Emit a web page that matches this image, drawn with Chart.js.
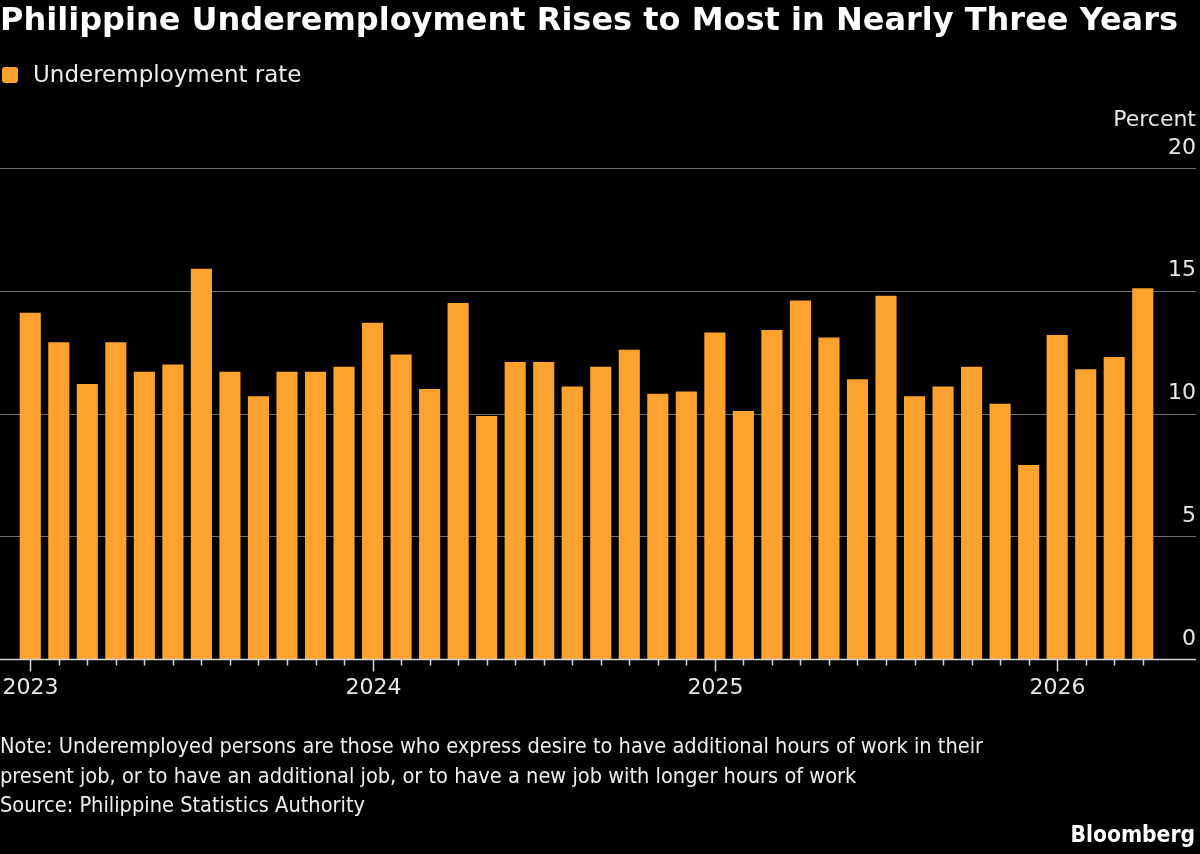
<!DOCTYPE html>
<html>
<head>
<meta charset="utf-8">
<script src="https://cdn.jsdelivr.net/npm/chart.js@4"></script>
<style>
  html, body { margin: 0; padding: 0; background: #000; }
  body { width: 1200px; height: 854px; position: relative; overflow: hidden; color: #fff; }
  .title { position: absolute; left: 0; top: 0; font: bold 32px "DejaVu Sans", sans-serif; white-space: nowrap; }
  .legend { position: absolute; left: 2px; top: 61px; font: 23px "DejaVu Sans", sans-serif; color: #eee; white-space: nowrap; }
  .legend .swatch { display: inline-block; width: 16px; height: 16px; background: #fda22e; border-radius: 3px; margin-right: 15px; vertical-align: -1px; }
  .note { position: absolute; left: 0; top: 731px; font: 21.6px "DejaVu Sans Condensed", "DejaVu Sans", sans-serif; line-height: 29.5px; color: #eee; white-space: nowrap; }
  .brand { position: absolute; right: 5px; top: 821px; font: bold 22.6px "DejaVu Sans Condensed", "DejaVu Sans", sans-serif; }
  #wrap { position: absolute; left: 0; top: 0; width: 1200px; height: 854px; }
</style>
</head>
<body>
<div id="wrap"><canvas id="chart"></canvas></div>
<div class="title">Philippine Underemployment Rises to Most in Nearly Three Years</div>
<div class="legend"><span class="swatch"></span>Underemployment rate</div>
<div class="note">Note: Underemployed persons are those who express desire to have additional hours of work in their<br>present job, or to have an additional job, or to have a new job with longer hours of work<br>Source: Philippine Statistics Authority</div>
<div class="brand">Bloomberg</div>
<script>
  // Monthly categories
  const months = [
    '2023-01', '2023-02', '2023-03', '2023-04', '2023-05', '2023-06',
    '2023-07', '2023-08', '2023-09', '2023-10', '2023-11', '2023-12',
    '2024-01', '2024-02', '2024-03', '2024-04', '2024-05', '2024-06',
    '2024-07', '2024-08', '2024-09', '2024-10', '2024-11', '2024-12',
    '2025-01', '2025-02', '2025-03', '2025-04', '2025-05', '2025-06',
    '2025-07', '2025-08', '2025-09', '2025-10', '2025-11', '2025-12',
    '2026-01', '2026-02', '2026-03', '2026-04'
  ];

  // Underemployment rate, percent
  const underemploymentRate = [
    14.1, 12.9, 11.2, 12.9, 11.7, 12.0, 15.9, 11.7, 10.7, 11.7, 11.7, 11.9,
    13.7, 12.4, 11.0, 14.5, 9.9, 12.1, 12.1, 11.1, 11.9, 12.6, 10.8, 10.9,
    13.3, 10.1, 13.4, 14.6, 13.1, 11.4, 14.8, 10.7, 11.1, 11.9, 10.4, 7.9,
    13.2, 11.8, 12.3, 15.1
  ];

  const yTicks = [0, 5, 10, 15, 20];

  const labelFont = '22px "DejaVu Sans", sans-serif';

  // Draws gridlines, right-side labels, axis line, month ticks and year labels
  const axesPlugin = {
    id: 'bbgAxes',
    beforeDatasetsDraw(chart) {
      const ctx = chart.ctx;
      const y = chart.scales.y;
      ctx.save();
      ctx.strokeStyle = '#6e6e6e';
      ctx.lineWidth = 1;
      yTicks.forEach(v => {
        if (v === 0) return;
        const py = Math.round(y.getPixelForValue(v)) + 0.5;
        ctx.beginPath();
        ctx.moveTo(0, py);
        ctx.lineTo(1196, py);
        ctx.stroke();
      });
      ctx.restore();
    },
    afterDatasetsDraw(chart) {
      const ctx = chart.ctx;
      const x = chart.scales.x;
      const y = chart.scales.y;
      ctx.save();
      // y labels
      ctx.fillStyle = '#e8e8e8';
      ctx.font = labelFont;
      ctx.textAlign = 'right';
      ctx.textBaseline = 'middle';
      yTicks.forEach(v => {
        ctx.fillText(String(v), 1196, y.getPixelForValue(v) - 20);
      });
      ctx.fillText('Percent', 1196, y.getPixelForValue(20) - 48);

      // baseline
      const by = Math.round(y.getPixelForValue(0)) + 0.5;
      ctx.strokeStyle = '#d8d8d8';
      ctx.lineWidth = 1.5;
      ctx.beginPath();
      ctx.moveTo(0, by);
      ctx.lineTo(1196, by);
      ctx.stroke();

      // ticks + year labels
      ctx.lineWidth = 1.5;
      ctx.textAlign = 'center';
      months.forEach((m, i) => {
        const px = Math.round(x.getPixelForValue(i)) + 0.5;
        const isJan = m.endsWith('-01');
        ctx.beginPath();
        ctx.moveTo(px, by);
        ctx.lineTo(px, by + (isJan ? 12 : 6));
        ctx.stroke();
        if (isJan) {
          ctx.fillText(m.slice(0, 4), Math.max(px, 30), by + 29);
        }
      });
      ctx.restore();
    }
  };

  new Chart(document.getElementById('chart'), {
    type: 'bar',
    data: {
      labels: months,
      datasets: [{
        label: 'Underemployment rate',
        data: underemploymentRate,
        backgroundColor: '#fda22e',
        borderWidth: 0,
        categoryPercentage: 1,
        barPercentage: 0.74
      }]
    },
    options: {
      responsive: true,
      maintainAspectRatio: false,
      animation: false,
      layout: { padding: { left: 16, right: 43, top: 168, bottom: 195 } },
      plugins: { legend: { display: false }, tooltip: { enabled: false } },
      scales: {
        x: { display: false, offset: true },
        y: { display: false, min: 0, max: 20 }
      }
    },
    plugins: [axesPlugin]
  });
</script>
</body>
</html>
